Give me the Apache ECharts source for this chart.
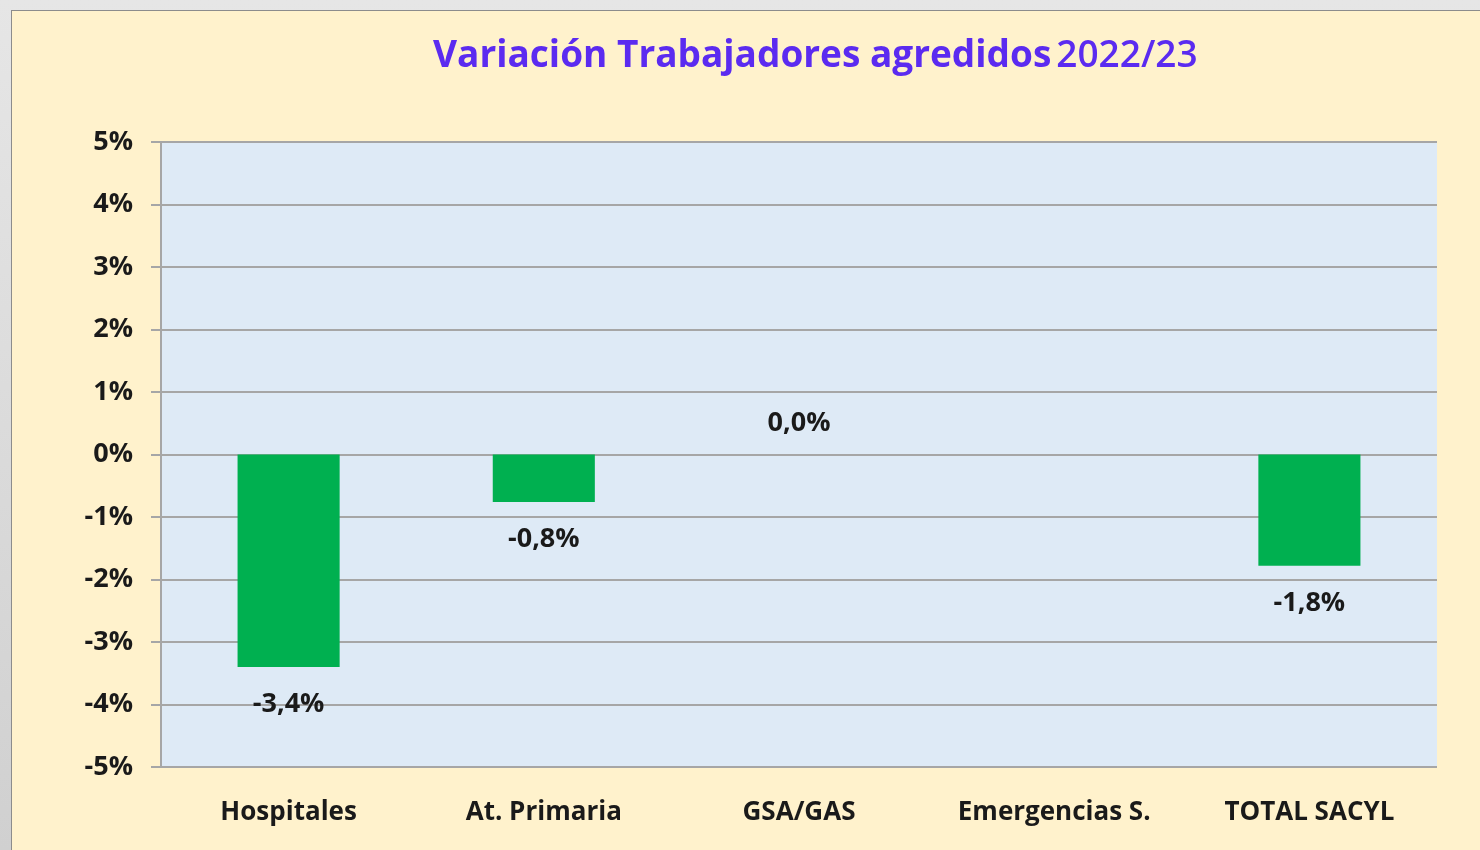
<!DOCTYPE html>
<html>
<head>
<meta charset="utf-8">
<script src="https://cdn.jsdelivr.net/npm/echarts@6/dist/echarts.min.js"></script>
<style>
html,body{margin:0;padding:0;width:1480px;height:850px;overflow:hidden;background:linear-gradient(#e6e6e6,#d0d0d0);}
#c{position:absolute;left:11px;top:10px;width:1469px;height:840px;background:#FFF2CC;border-top:1px solid #8c8c8c;border-left:1px solid #8c8c8c;box-sizing:border-box;}
</style>
</head>
<body>
<div id="c"></div>
<script>
const categories = ['Hospitales', 'At. Primaria', 'GSA/GAS', 'Emergencias S.', 'TOTAL SACYL'];
const values = [-3.4, -0.76, 0.0, null, -1.78];
const yTicks = { min: -5, max: 5, interval: 1 };
const titleMain = 'Variación Trabajadores agredidos';
const titleYear = '2022/23';

const FONT = '"Open Sans", "Noto Sans", sans-serif';
const chart = echarts.init(document.getElementById('c'));
const fmt = v => v.toFixed(1).replace('.', ',') + '%';

const data = values.map(v => v === 0 ? { value: v, label: { position: 'top', distance: 18 } } : v);

chart.setOption({
  animation: false,
  title: {
    text: '{a|' + titleMain + '} {b|' + titleYear + '}',
    left: 416,
    top: 22,
    textStyle: {
      rich: {
        a: { fontFamily: FONT, fontWeight: 'bold', fontSize: 37, color: '#5B2BF0' },
        b: { fontFamily: FONT, fontWeight: 600, fontSize: 37, color: '#5B2BF0' }
      }
    }
  },
  grid: {
    left: 149, top: 131, width: 1276, height: 625,
    show: true, backgroundColor: '#DEEAF6', borderWidth: 0
  },
  xAxis: {
    type: 'category',
    data: categories,
    axisLine: { show: false },
    axisTick: { show: false },
    axisLabel: {
      interval: 0,
      margin: 33,
      fontFamily: FONT, fontWeight: 'bold', fontSize: 26, color: '#1a1a1a'
    }
  },
  yAxis: {
    type: 'value',
    min: yTicks.min, max: yTicks.max, interval: yTicks.interval,
    axisLine: { show: true, lineStyle: { color: '#A6A6A6', width: 2 } },
    axisTick: { show: true, length: 10, lineStyle: { color: '#A6A6A6', width: 2 } },
    splitLine: { show: true, lineStyle: { color: '#A6A6A6', width: 2 } },
    axisLabel: {
      margin: 28,
      formatter: v => v + '%',
      fontFamily: FONT, fontWeight: 'bold', fontSize: 27, color: '#1a1a1a'
    }
  },
  series: [{
    type: 'bar',
    data: data,
    barWidth: '40%',
    itemStyle: { color: '#00B050' },
    label: {
      show: true,
      position: 'bottom',
      distance: 24,
      formatter: p => p.value == null ? '' : fmt(p.value),
      fontFamily: FONT, fontWeight: 'bold', fontSize: 27, color: '#1a1a1a'
    }
  }]
});
</script>
</body>
</html>
